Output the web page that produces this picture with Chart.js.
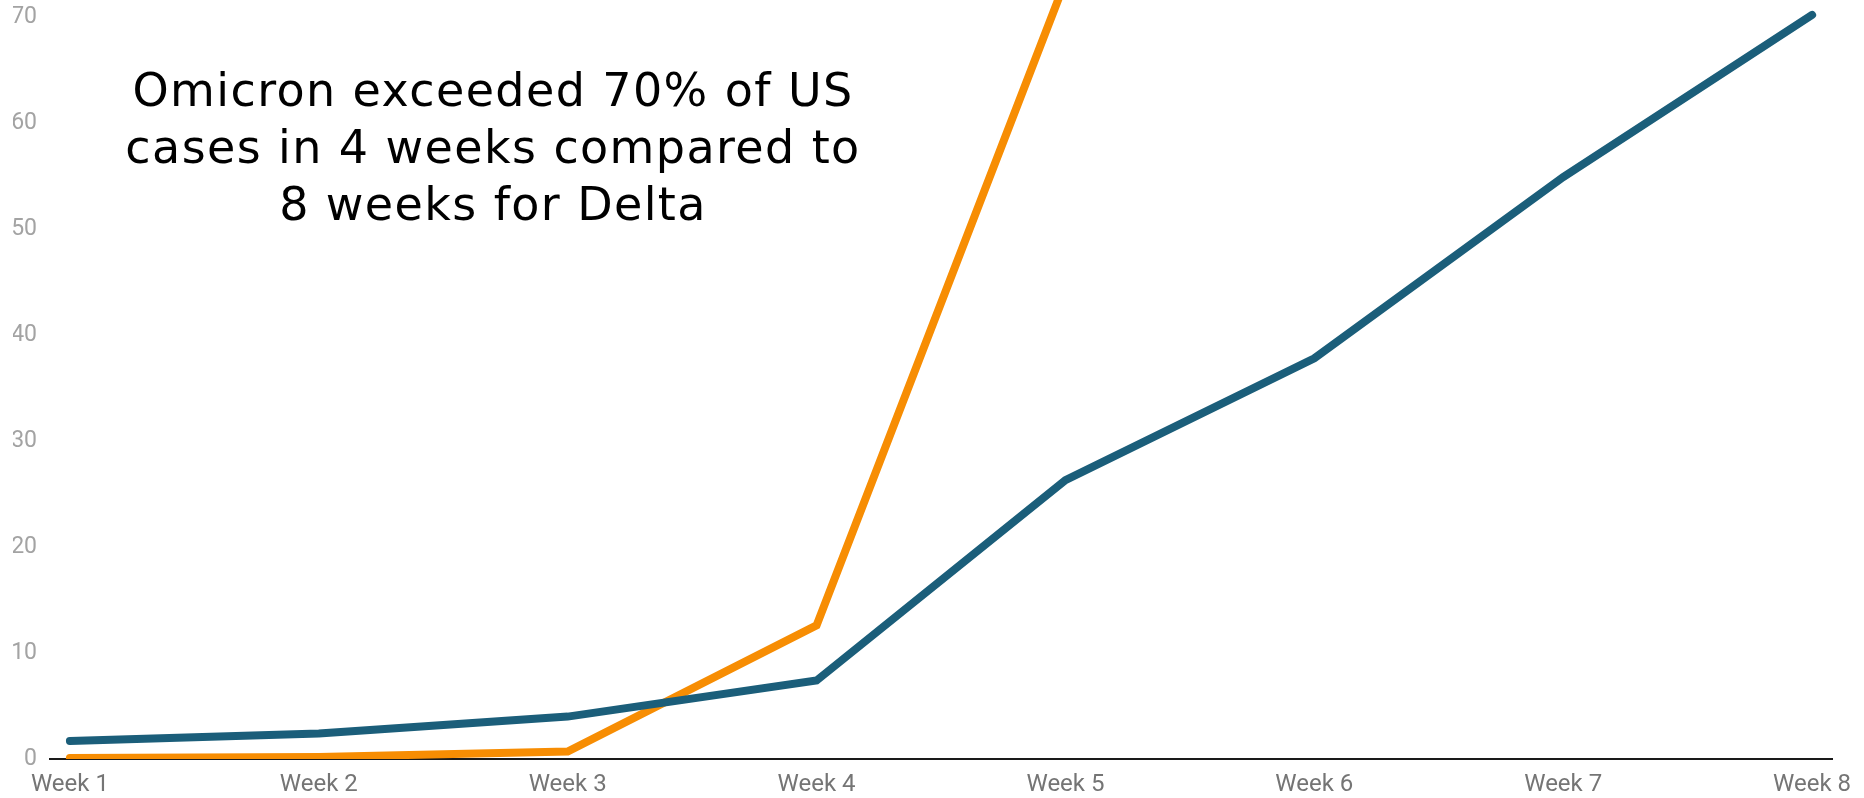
<!DOCTYPE html>
<html>
<head>
<meta charset="utf-8">
<script src="https://cdn.jsdelivr.net/npm/chart.js@4/dist/chart.umd.min.js"></script>
<style>
  html, body { margin: 0; padding: 0; background: #fff; overflow: hidden; }
  .wrap { position: relative; width: 1864px; height: 798px; }
  canvas { display: block; }
  .note {
    position: absolute; left: 93px; top: 62px; width: 800px;
    text-align: center; font-family: "DejaVu Sans", sans-serif; font-weight: normal;
    font-size: 46px; line-height: 57px; color: #000; letter-spacing: 1.4px;
  }
</style>
</head>
<body>
<div class="wrap">
  <canvas id="myChart" width="1864" height="798"></canvas>
  <div class="note">Omicron exceeded 70% of US<br>cases in 4 weeks compared to<br>8 weeks for Delta</div>
</div>
<script>
const weeks = ['Week 1', 'Week 2', 'Week 3', 'Week 4', 'Week 5', 'Week 6', 'Week 7', 'Week 8'];
const delta = [1.7, 2.4, 4.0, 7.4, 26.3, 37.8, 54.9, 70.2];
const omicron = [0.1, 0.2, 0.7, 12.6, 73.4];
const yTicks = [0, 10, 20, 30, 40, 50, 60, 70];

const toXY = arr => arr.map((v, i) => ({x: i + 1, y: v}));

const dataGraph = {
  datasets: [{
      label: 'Delta',
      data: toXY(delta),
      borderColor: '#1b5e7a',
      backgroundColor: '#1b5e7a',
      borderWidth: 8,
      pointRadius: 0,
      borderCapStyle: 'round',
      borderJoinStyle: 'miter',
      tension: 0
    },
    {
      label: 'Omicron',
      data: toXY(omicron),
      borderColor: '#f78d03',
      backgroundColor: '#f78d03',
      borderWidth: 8,
      pointRadius: 0,
      borderCapStyle: 'round',
      borderJoinStyle: 'miter',
      tension: 0
    }]
};

const config = {
  type: 'line',
  data: dataGraph,
  options: {
    responsive: false,
    animation: false,
    layout: { padding: { left: 13, right: 32, top: 0, bottom: 0 } },
    plugins: { legend: { display: false }, tooltip: { enabled: false } },
    scales: {
      x: {
        type: 'linear',
        min: 0.92,
        max: 8.08,
        z: 1,
        grid: { display: false, drawTicks: false },
        border: { display: true, color: '#1a1a1a', width: 2 },
        afterBuildTicks: s => { s.ticks = weeks.map((_, i) => ({value: i + 1})); },
        afterFit: s => { s.height = 39; s.paddingLeft = 0; s.paddingRight = 0; },
        ticks: {
          padding: 12,
          color: '#757575',
          font: { family: 'Roboto', size: 24 },
          maxRotation: 0,
          callback: v => weeks[v - 1]
        }
      },
      y: {
        min: 0,
        max: 71.6,
        grid: { display: false, drawTicks: false },
        border: { display: false },
        afterBuildTicks: s => { s.ticks = yTicks.map(v => ({value: v})); },
        afterFit: s => { s.width = 37; s.paddingTop = 0; s.paddingBottom = 0; },
        ticks: {
          padding: 13,
          color: '#a3a3a3',
          font: { family: 'Roboto', size: 23 }
        }
      }
    }
  }
};

const myChart = new Chart(document.getElementById('myChart'), config);
</script>
</body>
</html>
